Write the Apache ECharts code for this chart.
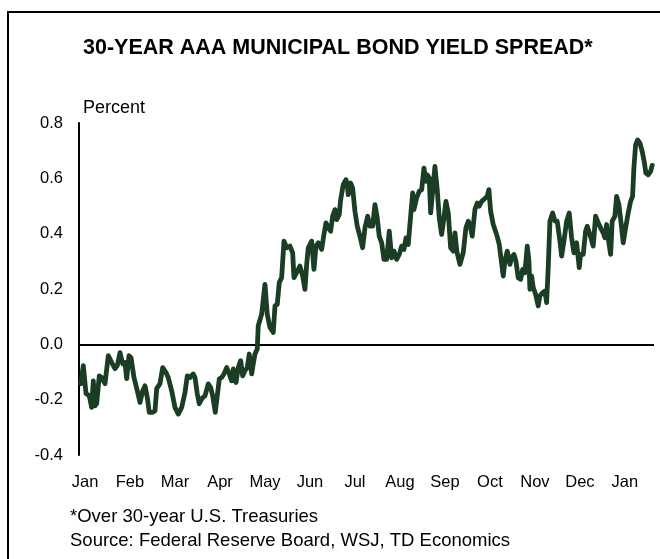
<!DOCTYPE html>
<html>
<head>
<meta charset="utf-8">
<script src="https://cdn.jsdelivr.net/npm/echarts@6/dist/echarts.min.js"></script>
<style>
  html, body { margin: 0; padding: 0; background: #fff; }
  #chart { width: 660px; height: 559px; }
</style>
</head>
<body>
<div id="chart"></div>
<script>
// Time in months since 1 January (fractional), one entry per vertex of the line
const monthPos = [
  0.038, 0.096, 0.156, 0.229, 0.282, 0.318, 0.356, 0.393, 0.451, 0.504,
  0.578, 0.651, 0.727, 0.800, 0.851, 0.911, 0.971, 1.022, 1.060, 1.111,
  1.156, 1.222, 1.296, 1.356, 1.416, 1.467, 1.518, 1.562, 1.638, 1.689,
  1.727, 1.800, 1.860, 1.933, 1.984, 2.060, 2.133, 2.207, 2.282, 2.356,
  2.407, 2.467, 2.540, 2.578, 2.629, 2.673, 2.727, 2.800, 2.873, 2.927,
  2.971, 3.029, 3.060, 3.118, 3.171, 3.222, 3.282, 3.340, 3.393, 3.429,
  3.489, 3.540, 3.593, 3.638, 3.689, 3.740, 3.784, 3.838, 3.873, 3.911,
  3.962, 3.984, 4.060, 4.133, 4.184, 4.244, 4.318, 4.356, 4.407, 4.451,
  4.504, 4.556, 4.616, 4.689, 4.749, 4.778, 4.838, 4.911, 4.971, 5.022,
  5.060, 5.096, 5.171, 5.222, 5.267, 5.318, 5.393, 5.444, 5.489, 5.540,
  5.593, 5.638, 5.689, 5.727, 5.784, 5.816, 5.873, 5.933, 5.962, 5.984,
  6.038, 6.082, 6.133, 6.184, 6.244, 6.304, 6.356, 6.416, 6.467, 6.527,
  6.578, 6.629, 6.673, 6.727, 6.778, 6.838, 6.896, 6.949, 7.000, 7.060,
  7.118, 7.171, 7.222, 7.267, 7.318, 7.371, 7.416, 7.444, 7.504, 7.562,
  7.616, 7.667, 7.711, 7.740, 7.784, 7.816, 7.860, 7.911, 7.962, 8.007,
  8.060, 8.111, 8.156, 8.207, 8.260, 8.318, 8.356, 8.396, 8.467, 8.540,
  8.600, 8.651, 8.689, 8.740, 8.800, 8.851, 8.896, 8.949, 9.022, 9.073,
  9.111, 9.149, 9.207, 9.282, 9.340, 9.378, 9.429, 9.467, 9.518, 9.578,
  9.616, 9.667, 9.711, 9.762, 9.816, 9.860, 9.911, 9.962, 10.000, 10.022,
  10.060, 10.096, 10.149, 10.207, 10.244, 10.304, 10.356, 10.393, 10.429, 10.467,
  10.527, 10.578, 10.629, 10.689, 10.727, 10.778, 10.838, 10.896, 10.949, 11.000,
  11.060, 11.118, 11.149, 11.207, 11.260, 11.296, 11.356, 11.429, 11.482, 11.540,
  11.593, 11.651, 11.689, 11.727, 11.762, 11.816, 11.851, 11.911, 11.949, 12.000,
  12.044, 12.096, 12.149, 12.207, 12.260, 12.304, 12.333, 12.371, 12.416, 12.467,
  12.518, 12.562, 12.600, 12.651, 12.704, 12.740
];

// Yield spread over 30-year Treasuries, percent
const spread = [
  -0.143, -0.077, -0.178, -0.186, -0.228, -0.132, -0.222, -0.214, -0.114, -0.120,
  -0.142, -0.041, -0.066, -0.088, -0.077, -0.030, -0.070, -0.066, -0.124, -0.041,
  -0.048, -0.120, -0.168, -0.210, -0.168, -0.150, -0.192, -0.246, -0.246, -0.240,
  -0.160, -0.142, -0.084, -0.102, -0.120, -0.168, -0.228, -0.252, -0.228, -0.174,
  -0.114, -0.120, -0.107, -0.120, -0.179, -0.215, -0.197, -0.186, -0.143, -0.156,
  -0.186, -0.246, -0.204, -0.125, -0.120, -0.107, -0.084, -0.107, -0.132, -0.089,
  -0.138, -0.084, -0.059, -0.114, -0.095, -0.084, -0.035, -0.107, -0.071, -0.035,
  -0.017, 0.067, 0.109, 0.217, 0.109, 0.061, 0.043, 0.139, 0.145, 0.223,
  0.241, 0.373, 0.349, 0.355, 0.331, 0.241, 0.259, 0.283, 0.247, 0.199,
  0.289, 0.349, 0.373, 0.271, 0.355, 0.367, 0.343, 0.397, 0.439, 0.421,
  0.409, 0.463, 0.487, 0.451, 0.469, 0.523, 0.577, 0.595, 0.577, 0.541,
  0.583, 0.565, 0.481, 0.427, 0.391, 0.349, 0.421, 0.463, 0.427, 0.427,
  0.505, 0.457, 0.391, 0.367, 0.307, 0.307, 0.409, 0.313, 0.337, 0.307,
  0.325, 0.355, 0.343, 0.385, 0.361, 0.463, 0.547, 0.487, 0.529, 0.553,
  0.559, 0.637, 0.589, 0.613, 0.601, 0.475, 0.553, 0.643, 0.559, 0.457,
  0.397, 0.457, 0.517, 0.475, 0.349, 0.337, 0.403, 0.337, 0.289, 0.331,
  0.421, 0.445, 0.433, 0.391, 0.487, 0.511, 0.499, 0.517, 0.527, 0.535,
  0.559, 0.481, 0.433, 0.397, 0.361, 0.313, 0.247, 0.301, 0.337, 0.289,
  0.313, 0.325, 0.301, 0.241, 0.235, 0.271, 0.259, 0.355, 0.301, 0.199,
  0.247, 0.205, 0.181, 0.139, 0.175, 0.187, 0.193, 0.151, 0.277, 0.445,
  0.475, 0.445, 0.445, 0.373, 0.319, 0.373, 0.445, 0.475, 0.385, 0.331,
  0.367, 0.277, 0.325, 0.325, 0.409, 0.427, 0.397, 0.355, 0.463, 0.439,
  0.421, 0.403, 0.385, 0.433, 0.385, 0.325, 0.445, 0.463, 0.535, 0.505,
  0.445, 0.367, 0.421, 0.475, 0.517, 0.535, 0.637, 0.721, 0.739, 0.727,
  0.697, 0.661, 0.619, 0.613, 0.625, 0.647
];

// Month tick labels, one per month start
const monthLabels = ['Jan', 'Feb', 'Mar', 'Apr', 'May', 'Jun', 'Jul', 'Aug', 'Sep', 'Oct', 'Nov', 'Dec', 'Jan'];

const titleText = '30-YEAR AAA MUNICIPAL BOND YIELD SPREAD*';
const footnote = '*Over 30-year U.S. Treasuries';
const sourceNote = 'Source: Federal Reserve Board, WSJ, TD Economics';

const FONT = '"Liberation Sans", Arial, sans-serif';
const chart = echarts.init(document.getElementById('chart'), null, { renderer: 'canvas' });

const points = monthPos.map((m, i) => [m, spread[i]]);

chart.setOption({
  animation: false,
  backgroundColor: '#ffffff',
  textStyle: { fontFamily: FONT, color: '#000' },
  title: {
    text: titleText,
    left: 83,
    top: 37,
    padding: 0,
    textStyle: { fontFamily: FONT, fontWeight: 'bold', fontSize: 21.5, color: '#000' }
  },
  grid: { left: 79, right: 6, top: 123, bottom: 104 },
  xAxis: {
    type: 'value',
    min: 0,
    max: 12.78,
    interval: 1,
    axisLine: { show: false },
    axisTick: { show: false },
    splitLine: { show: false },
    axisLabel: {
      margin: 19,
      fontSize: 16.5,
      color: '#000',
      fontFamily: FONT,
      padding: [0, 0, 0, 12],
      showMaxLabel: false,
      formatter: v => (Number.isInteger(v) && monthLabels[v]) ? monthLabels[v] : ''
    }
  },
  yAxis: {
    type: 'value',
    min: -0.4,
    max: 0.8,
    interval: 0.2,
    name: 'Percent',
    nameLocation: 'end',
    nameGap: 6,
    nameTextStyle: { fontFamily: FONT, fontSize: 18, color: '#000', align: 'left', padding: [0, 0, 0, 4] },
    axisLine: { show: true, onZero: false, lineStyle: { color: '#000', width: 2 } },
    axisTick: { show: false },
    splitLine: { show: false },
    axisLabel: {
      margin: 16,
      fontSize: 16.5,
      color: '#000',
      fontFamily: FONT,
      formatter: v => v.toFixed(1)
    }
  },
  series: [{
    type: 'line',
    data: points,
    showSymbol: false,
    lineStyle: { color: '#1b3d24', width: 4.8, join: 'round', cap: 'round' },
    z: 3,
    markLine: {
      silent: true,
      symbol: ['none', 'none'],
      label: { show: false },
      lineStyle: { color: '#000', width: 2, type: 'solid' },
      data: [{ yAxis: 0 }],
      z: 2
    }
  }],
  graphic: [
    {
      type: 'rect',
      shape: { x: 8, y: 12, width: 700, height: 600 },
      style: { fill: 'none', stroke: '#000', lineWidth: 2 }
    },
    {
      type: 'text',
      left: 70,
      top: 507,
      style: { text: footnote, fontFamily: FONT, fontSize: 18.5, fill: '#000' }
    },
    {
      type: 'text',
      left: 70,
      top: 531,
      style: { text: sourceNote, fontFamily: FONT, fontSize: 18.5, fill: '#000' }
    }
  ]
});
</script>
</body>
</html>
